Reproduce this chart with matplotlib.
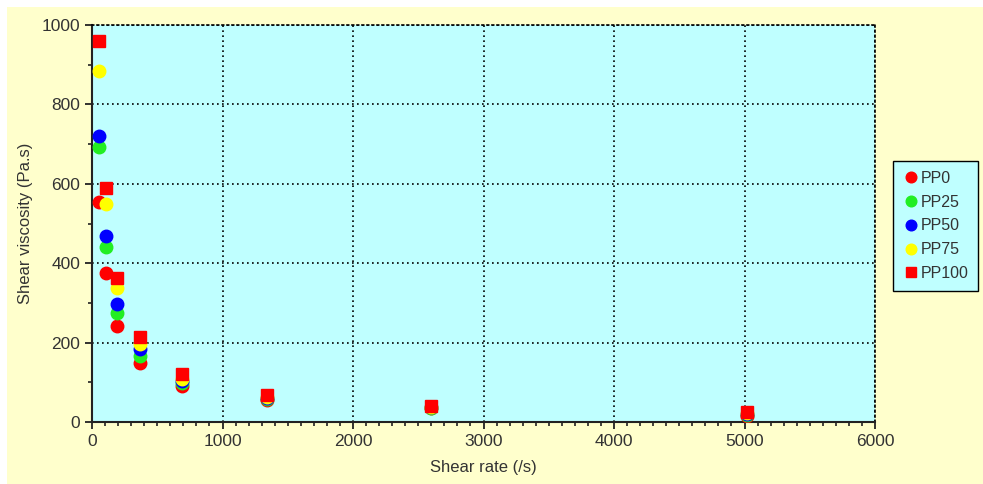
import numpy as np
import matplotlib.pyplot as plt
from matplotlib.patches import Rectangle
from matplotlib.ticker import MultipleLocator

# Shear rate (/s)
rate = [52, 104, 190, 368, 690, 1340, 2600, 5020]

# Shear viscosity (Pa.s)
pp0 = [555, 375, 242, 148, 90, 55, 35, 15]
pp25 = [692, 440, 275, 165, 98, 58, 36, 18]
pp50 = [720, 468, 296, 183, 103, 60, 37, 20]
pp75 = [885, 550, 338, 197, 108, 62, 38, 22]
pp100 = [960, 590, 362, 213, 122, 68, 40, 25]

series = [("PP0", pp0, "#ff0000", "o"),
          ("PP25", pp25, "#22ee22", "o"),
          ("PP50", pp50, "#0000ff", "o"),
          ("PP75", pp75, "#ffff00", "o"),
          ("PP100", pp100, "#ff0000", "s")]

plt.rcParams['font.family'] = ['Liberation Sans', 'DejaVu Sans']

fig = plt.figure(figsize=(9.83, 4.84), dpi=100)
fig.patch.set_facecolor("white")
fig.patches.append(Rectangle((7 / 983, 0), 1, 1 - 7 / 484, transform=fig.transFigure,
                             facecolor="#ffffcc", edgecolor="none", zorder=-10))

ax = fig.add_axes([92 / 983, 62 / 484, 783 / 983, 397 / 484])
ax.set_facecolor("#bfffff")

for name, vals, col, mk in series:
    ax.plot(rate, vals, linestyle="none", marker=mk, markersize=9 if mk == "o" else 8.5,
            color=col, markeredgecolor=col, label=name, zorder=3)

ax.set_xlim(0, 6000)
ax.set_ylim(0, 1000)
ax.xaxis.set_major_locator(MultipleLocator(1000))
ax.xaxis.set_minor_locator(MultipleLocator(100))
ax.yaxis.set_major_locator(MultipleLocator(200))
ax.yaxis.set_minor_locator(MultipleLocator(100))

ax.grid(True, which="major", color="black", linestyle=(0, (1, 2)), linewidth=1.2)
ax.set_axisbelow(True)

for s in ["top", "right"]:
    ax.spines[s].set_linestyle((0, (1, 2)))
    ax.spines[s].set_linewidth(1.2)
for s in ["left", "bottom"]:
    ax.spines[s].set_linewidth(1.5)
    ax.spines[s].set_color("#222222")

ax.tick_params(which="major", direction="out", length=5, width=1.3, labelsize=12.5,
               labelcolor="#333333", color="#222222")
ax.tick_params(which="minor", direction="out", length=3, width=1.2, color="#222222")

ax.set_xlabel("Shear rate (/s)", fontsize=12, color="#333333", labelpad=8)
ax.set_ylabel("Shear viscosity (Pa.s)", fontsize=12, color="#333333", labelpad=6)

leg = ax.legend(loc="center left", bbox_to_anchor=(893 / 983, (484 - 226) / 484),
                bbox_transform=fig.transFigure, fontsize=11.5, frameon=True,
                fancybox=False, edgecolor="black", facecolor="#bfffff",
                framealpha=1, handletextpad=0.15, borderpad=0.6,
                labelspacing=0.55, handlelength=1.0, borderaxespad=0,
                markerscale=0.85)
leg.get_frame().set_linewidth(1.0)
for t in leg.get_texts():
    t.set_color("#333333")

fig.savefig("out.png", dpi=100, facecolor=fig.get_facecolor())
